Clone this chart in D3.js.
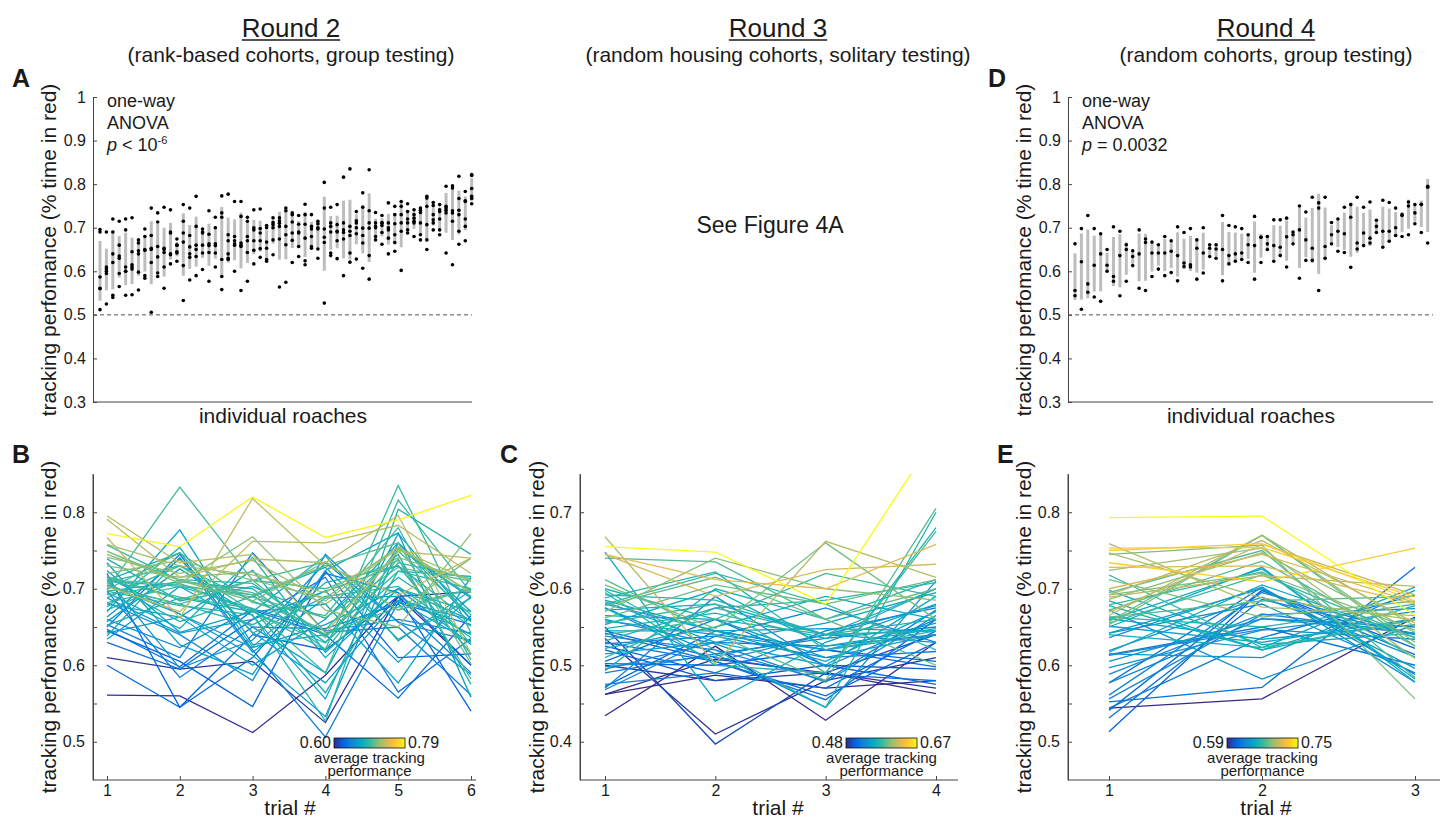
<!DOCTYPE html>
<meta charset="utf-8">
<style>
 body { margin: 0; background: #fff; }
 text { font-family: "Liberation Sans", Arial, Helvetica, sans-serif; fill: #1a1a1a; }
 .axis path, .axis line { stroke: #444; }
 .trace { fill: none; stroke-width: 1.3px; }
</style>
<body>
<script src="https://d3js.org/d3.v7.min.js"></script>
<script>
// Round 2: six trials per roach (panels A and B), roaches ordered by mean
var round2Trials = [
  [0.561,0.560,0.512,0.587,0.690,0.696],
  [0.610,0.595,0.605,0.525,0.690,0.600],
  [0.720,0.545,0.640,0.620,0.690,0.540],
  [0.630,0.595,0.660,0.715,0.565,0.635],
  [0.600,0.545,0.610,0.720,0.695,0.600],
  [0.645,0.605,0.546,0.723,0.610,0.615],
  [0.647,0.598,0.672,0.640,0.557,0.665],
  [0.697,0.584,0.650,0.648,0.680,0.590],
  [0.650,0.745,0.620,0.506,0.682,0.653],
  [0.713,0.596,0.633,0.734,0.657,0.588],
  [0.653,0.610,0.747,0.643,0.650,0.561],
  [0.638,0.741,0.617,0.688,0.690,0.640],
  [0.660,0.623,0.674,0.645,0.660,0.642],
  [0.715,0.667,0.613,0.533,0.753,0.688],
  [0.682,0.640,0.580,0.745,0.656,0.632],
  [0.634,0.703,0.650,0.590,0.772,0.660],
  [0.688,0.642,0.660,0.697,0.604,0.690],
  [0.663,0.739,0.643,0.577,0.685,0.659],
  [0.642,0.663,0.724,0.610,0.700,0.659],
  [0.734,0.627,0.588,0.724,0.773,0.558],
  [0.670,0.777,0.627,0.640,0.684,0.630],
  [0.680,0.663,0.600,0.660,0.760,0.670],
  [0.657,0.726,0.665,0.556,0.760,0.660],
  [0.724,0.643,0.670,0.680,0.577,0.715],
  [0.695,0.648,0.741,0.617,0.700,0.670],
  [0.652,0.688,0.670,0.743,0.632,0.698],
  [0.705,0.667,0.623,0.653,0.700,0.627],
  [0.672,0.712,0.707,0.638,0.723,0.700],
  [0.710,0.703,0.674,0.564,0.723,0.716],
  [0.739,0.684,0.703,0.661,0.745,0.575],
  [0.688,0.730,0.671,0.620,0.734,0.713],
  [0.708,0.657,0.690,0.728,0.634,0.688],
  [0.676,0.754,0.624,0.708,0.730,0.615],
  [0.703,0.680,0.653,0.697,0.730,0.657],
  [0.697,0.709,0.700,0.630,0.715,0.651],
  [0.697,0.678,0.666,0.527,0.804,0.745],
  [0.711,0.747,0.642,0.690,0.703,0.636],
  [0.692,0.707,0.670,0.629,0.753,0.690],
  [0.711,0.689,0.674,0.590,0.816,0.695],
  [0.682,0.703,0.692,0.621,0.835,0.642],
  [0.716,0.686,0.711,0.700,0.737,0.628],
  [0.699,0.747,0.682,0.665,0.780,0.607],
  [0.699,0.833,0.711,0.636,0.739,0.582],
  [0.703,0.680,0.711,0.735,0.672,0.700],
  [0.712,0.705,0.689,0.662,0.728,0.710],
  [0.757,0.711,0.695,0.640,0.676,0.700],
  [0.709,0.730,0.684,0.646,0.749,0.666],
  [0.749,0.711,0.692,0.730,0.760,0.602],
  [0.720,0.737,0.711,0.688,0.755,0.695],
  [0.730,0.715,0.722,0.680,0.741,0.711],
  [0.745,0.711,0.684,0.735,0.672,0.740],
  [0.749,0.707,0.768,0.672,0.650,0.772],
  [0.758,0.730,0.718,0.695,0.751,0.711],
  [0.741,0.720,0.737,0.684,0.753,0.695],
  [0.795,0.734,0.745,0.642,0.749,0.740],
  [0.791,0.715,0.739,0.734,0.796,0.615],
  [0.767,0.662,0.818,0.730,0.692,0.740],
  [0.703,0.670,0.762,0.760,0.783,0.720],
  [0.772,0.755,0.820,0.767,0.790,0.822]
];

// Round 3: four trials per roach (panel C)
var round3Trials = [
  [0.655,0.648,0.580,0.800],
  [0.668,0.502,0.662,0.615],
  [0.648,0.453,0.530,0.580],
  [0.645,0.612,0.600,0.658],
  [0.645,0.590,0.625,0.632],
  [0.640,0.635,0.560,0.500],
  [0.612,0.540,0.480,0.705],
  [0.605,0.548,0.660,0.560],
  [0.600,0.560,0.540,0.560],
  [0.598,0.520,0.445,0.700],
  [0.595,0.500,0.490,0.680],
  [0.592,0.585,0.540,0.545],
  [0.588,0.622,0.520,0.545],
  [0.585,0.545,0.505,0.570],
  [0.583,0.530,0.500,0.590],
  [0.580,0.545,0.520,0.540],
  [0.578,0.615,0.560,0.600],
  [0.575,0.505,0.540,0.530],
  [0.572,0.580,0.540,0.545],
  [0.570,0.640,0.600,0.585],
  [0.565,0.560,0.510,0.540],
  [0.562,0.605,0.580,0.612],
  [0.560,0.528,0.478,0.565],
  [0.558,0.540,0.520,0.555],
  [0.555,0.580,0.490,0.675],
  [0.553,0.598,0.525,0.548],
  [0.550,0.397,0.490,0.540],
  [0.548,0.568,0.535,0.600],
  [0.545,0.545,0.548,0.545],
  [0.545,0.510,0.488,0.480],
  [0.542,0.505,0.460,0.530],
  [0.540,0.560,0.620,0.590],
  [0.538,0.520,0.480,0.572],
  [0.535,0.410,0.480,0.510],
  [0.532,0.575,0.540,0.600],
  [0.530,0.505,0.455,0.560],
  [0.528,0.538,0.510,0.518],
  [0.525,0.490,0.470,0.545],
  [0.522,0.550,0.590,0.560],
  [0.520,0.480,0.500,0.495],
  [0.515,0.530,0.555,0.595],
  [0.510,0.575,0.585,0.608],
  [0.505,0.560,0.500,0.475],
  [0.502,0.500,0.520,0.505],
  [0.500,0.480,0.490,0.470],
  [0.498,0.512,0.540,0.578],
  [0.495,0.530,0.525,0.540],
  [0.493,0.600,0.560,0.612],
  [0.490,0.515,0.535,0.550],
  [0.475,0.490,0.545,0.575],
  [0.472,0.545,0.520,0.498],
  [0.470,0.590,0.498,0.560],
  [0.468,0.538,0.575,0.530],
  [0.462,0.508,0.490,0.463],
  [0.462,0.487,0.470,0.480],
  [0.434,0.525,0.428,0.530],
  [0.575,0.515,0.445,0.610],
  [0.580,0.620,0.580,0.520]
];

// Round 4: three trials per roach (panels D and E), ordered by mean
var round4Trials = [
  [0.544,0.556,0.663],
  [0.513,0.698,0.622],
  [0.552,0.571,0.728],
  [0.541,0.698,0.614],
  [0.531,0.686,0.640],
  [0.614,0.650,0.600],
  [0.577,0.702,0.588],
  [0.544,0.636,0.692],
  [0.577,0.661,0.650],
  [0.613,0.647,0.634],
  [0.561,0.695,0.640],
  [0.556,0.666,0.674],
  [0.588,0.667,0.642],
  [0.605,0.661,0.642],
  [0.642,0.680,0.590],
  [0.597,0.646,0.670],
  [0.636,0.702,0.578],
  [0.619,0.689,0.611],
  [0.615,0.610,0.698],
  [0.672,0.582,0.653],
  [0.642,0.700,0.596],
  [0.661,0.634,0.653],
  [0.651,0.630,0.661],
  [0.650,0.728,0.578],
  [0.617,0.705,0.636],
  [0.640,0.623,0.702],
  [0.698,0.627,0.642],
  [0.684,0.620,0.661],
  [0.659,0.726,0.582],
  [0.678,0.620,0.678],
  [0.663,0.650,0.680],
  [0.718,0.623,0.659],
  [0.655,0.718,0.636],
  [0.679,0.722,0.610],
  [0.663,0.684,0.690],
  [0.695,0.750,0.584],
  [0.672,0.736,0.625],
  [0.653,0.770,0.625],
  [0.745,0.757,0.556],
  [0.657,0.770,0.630],
  [0.712,0.663,0.684],
  [0.692,0.720,0.646],
  [0.686,0.747,0.643],
  [0.724,0.753,0.609],
  [0.665,0.770,0.651],
  [0.747,0.688,0.659],
  [0.759,0.676,0.665],
  [0.689,0.717,0.703],
  [0.692,0.763,0.655],
  [0.669,0.758,0.692],
  [0.700,0.745,0.682],
  [0.728,0.730,0.680],
  [0.750,0.759,0.684],
  [0.734,0.709,0.753],
  [0.753,0.754,0.689],
  [0.793,0.795,0.665]
];

// axis ticks and colour bar ranges
var scatterTicks = [0.3, 0.4, 0.5, 0.6, 0.7, 0.8, 0.9, 1];
var ticksBE = [0.5, 0.55, 0.6, 0.65, 0.7, 0.75, 0.8];
var ticksC = [0.4, 0.45, 0.5, 0.55, 0.6, 0.65, 0.7];
var trialsB = [1, 2, 3, 4, 5, 6];
var trialsC = [1, 2, 3, 4];
var trialsE = [1, 2, 3];
var cbarB = [0.60, 0.79];
var cbarC = [0.48, 0.67];
var cbarE = [0.59, 0.75];

var yLabel = "tracking perfomance (% time in red)";

// parula colormap, sampled
var parulaStops = [0, 0.127, 0.254, 0.381, 0.508, 0.635, 0.762, 0.841, 0.889, 1];
var parulaColors = ["#352a87", "#0363e1", "#1485d4", "#06a7c6", "#38b99e", "#92bf73", "#d9ba56", "#fdbe3d", "#fccd2e", "#f9fb0e"];
var parula = d3.scaleLinear().domain(parulaStops).range(parulaColors).interpolate(d3.interpolateRgb).clamp(true);

var svg = d3.select("body").append("svg")
  .attr("width", 1442).attr("height", 821);
svg.append("rect").attr("width", 1442).attr("height", 821).attr("fill", "#fff");
var defs = svg.append("defs");

var grad = defs.append("linearGradient").attr("id", "parulaGrad");
parulaStops.forEach(function (s, i) {
  grad.append("stop").attr("offset", (s * 100) + "%").attr("stop-color", parulaColors[i]);
});

function tenths(d) {
  return Math.abs(d * 10 - Math.round(d * 10)) < 1e-6 ? d.toFixed(1) : "";
}

function styleAxis(a) {
  a.attr("font-size", 16).attr("font-family", null);
}

// column titles
function title(x, head, sub) {
  var t = svg.append("text").attr("x", x).attr("y", 37).attr("text-anchor", "middle")
    .attr("font-size", 26).text(head);
  var w = t.node().getComputedTextLength();
  svg.append("line").attr("x1", x - w / 2).attr("x2", x + w / 2)
    .attr("y1", 40).attr("y2", 40).attr("stroke", "#1a1a1a").attr("stroke-width", 1.3);
  svg.append("text").attr("x", x).attr("y", 62).attr("text-anchor", "middle")
    .attr("font-size", 21).text(sub);
}
title(291, "Round 2", "(rank-based cohorts, group testing)");
title(778, "Round 3", "(random housing cohorts, solitary testing)");
title(1266, "Round 4", "(random cohorts, group testing)");

svg.append("text").attr("x", 770).attr("y", 233).attr("text-anchor", "middle")
  .attr("font-size", 23).text("See Figure 4A");

function letter(x, y, s) {
  svg.append("text").attr("x", x).attr("y", y).attr("font-size", 25)
    .attr("font-weight", "bold").attr("fill", "#000").text(s);
}

function ylab(x, cy) {
  svg.append("text").attr("transform", "translate(" + x + "," + cy + ") rotate(-90)")
    .attr("text-anchor", "middle").attr("font-size", 21).text(yLabel);
}

// panels A and D: per-roach scatter with mean +/- sd bars
function scatterPanel(o) {
  var y = d3.scaleLinear().domain([0.3, 1]).range([402, 97]);
  var x = d3.scaleLinear().domain([0, o.data.length - 1]).range(o.xr);
  var g = svg.append("g");

  g.append("g").attr("class", "axis").attr("transform", "translate(" + o.x0 + ",0)")
    .call(d3.axisLeft(y).tickValues(scatterTicks).tickSizeInner(-4).tickSizeOuter(0)
      .tickPadding(7).tickFormat(function (d) { return d === 1 ? "1" : d.toFixed(1); }))
    .call(styleAxis);

  g.append("line").attr("x1", o.x0).attr("x2", o.x1).attr("y1", y(0.3)).attr("y2", y(0.3))
    .attr("stroke", "#444");
  g.append("line").attr("x1", o.x0).attr("x2", o.x1).attr("y1", y(0.5)).attr("y2", y(0.5))
    .attr("stroke", "#555").attr("stroke-dasharray", "4,3");

  var sd = function (d) { return Math.sqrt(d3.variance(d) * (d.length - 1) / d.length); };
  g.selectAll(".bar").data(o.data).enter().append("line")
    .attr("x1", function (d, i) { return x(i); })
    .attr("x2", function (d, i) { return x(i); })
    .attr("y1", function (d) { return y(d3.mean(d) - sd(d)); })
    .attr("y2", function (d) { return y(d3.mean(d) + sd(d)); })
    .attr("stroke", "#bdbdbd").attr("stroke-width", 3);

  o.data.forEach(function (d, i) {
    g.selectAll(null).data(d).enter().append("circle")
      .attr("cx", x(i)).attr("cy", function (v) { return y(v); })
      .attr("r", 1.8).attr("fill", "#000");
  });

  g.append("text").attr("x", o.cx).attr("y", 423).attr("text-anchor", "middle")
    .attr("font-size", 21).text("individual roaches");

  var tx = o.x0 + 14;
  g.append("text").attr("x", tx).attr("y", 107).attr("font-size", 18).text("one-way");
  g.append("text").attr("x", tx).attr("y", 129).attr("font-size", 18).text("ANOVA");
  var p = g.append("text").attr("x", tx).attr("y", 151).attr("font-size", 18);
  p.append("tspan").attr("font-style", "italic").text("p");
  if (o.pSup) {
    p.append("tspan").text(" < 10");
    p.append("tspan").attr("dy", -7).attr("font-size", 11).text(o.pSup);
  } else {
    p.append("tspan").text(o.pText);
  }
}

scatterPanel({ data: round2Trials, x0: 93, x1: 472, xr: [100, 471.7], cx: 283, pSup: "-6" });
scatterPanel({ data: round4Trials, x0: 1068, x1: 1433, xr: [1075, 1427.7], cx: 1251, pText: " = 0.0032" });
letter(12, 87, "A");
letter(988, 87, "D");
ylab(56, 250);
ylab(1031, 250);

// panels B, C, E: trial-by-trial lines coloured by mean
var clipId = 0;
function linePanel(o) {
  var y = d3.scaleLinear().domain(o.yDom).range([780, 474]);
  var x = d3.scaleLinear().domain([1, o.trials.length]).range(o.xr);
  var g = svg.append("g");
  var id = "clip" + (clipId++);
  defs.append("clipPath").attr("id", id).append("rect")
    .attr("x", o.x0).attr("y", 474).attr("width", o.x1 - o.x0).attr("height", 306);

  g.append("g").attr("class", "axis").attr("transform", "translate(" + o.x0 + ",0)")
    .call(d3.axisLeft(y).tickValues(o.yTicks).tickSizeInner(-4).tickSizeOuter(0)
      .tickPadding(8).tickFormat(tenths))
    .call(styleAxis);
  var xa = g.append("g").attr("class", "axis").attr("transform", "translate(0,780)")
    .call(d3.axisBottom(x).tickValues(o.trials).tickSizeInner(-4).tickSizeOuter(0)
      .tickPadding(5).tickFormat(d3.format("d")))
    .call(styleAxis);
  xa.select(".domain").remove();
  g.append("line").attr("x1", o.x0).attr("x2", o.x1).attr("y1", 780).attr("y2", 780)
    .attr("stroke", "#444");
  g.append("line").attr("x1", o.x0).attr("x2", o.x0).attr("y1", 474).attr("y2", 780)
    .attr("stroke", "#444");

  var col = function (m) { return parula((m - o.cbar[0]) / (o.cbar[1] - o.cbar[0])); };
  var sorted = o.data.slice().sort(function (a, b) { return d3.mean(a) - d3.mean(b); });
  var line = d3.line().x(function (v, i) { return x(i + 1); }).y(function (v) { return y(v); });
  g.append("g").attr("clip-path", "url(#" + id + ")")
    .selectAll("path").data(sorted).enter().append("path")
    .attr("class", "trace")
    .attr("d", line)
    .attr("stroke", function (d) { return col(d3.mean(d)); });

  // colour bar
  var cb = o.cb;
  g.append("rect").attr("x", cb).attr("y", 738).attr("width", 71).attr("height", 10)
    .attr("fill", "url(#parulaGrad)").attr("stroke", "#111").attr("stroke-width", 0.8);
  g.append("text").attr("x", cb - 3).attr("y", 748).attr("text-anchor", "end")
    .attr("font-size", 16).text(o.cbar[0].toFixed(2));
  g.append("text").attr("x", cb + 74).attr("y", 748)
    .attr("font-size", 16).text(o.cbar[1].toFixed(2));
  g.append("text").attr("x", cb + 35.5).attr("y", 763).attr("text-anchor", "middle")
    .attr("font-size", 15).text("average tracking");
  g.append("text").attr("x", cb + 35.5).attr("y", 776).attr("text-anchor", "middle")
    .attr("font-size", 15).text("performance");

  g.append("text").attr("x", o.tx).attr("y", 815).attr("text-anchor", "middle")
    .attr("font-size", 21).text("trial #");
}

linePanel({ data: round2Trials, trials: trialsB, yDom: [0.45, 0.85], yTicks: ticksBE,
  x0: 93, x1: 476, xr: [107, 471], cbar: cbarB, cb: 334, tx: 290 });
linePanel({ data: round3Trials, trials: trialsC, yDom: [0.35, 0.75], yTicks: ticksC,
  x0: 580, x1: 958, xr: [605, 936], cbar: cbarC, cb: 846, tx: 778 });
linePanel({ data: round4Trials, trials: trialsE, yDom: [0.45, 0.85], yTicks: ticksBE,
  x0: 1068, x1: 1440, xr: [1109, 1415], cbar: cbarE, cb: 1227, tx: 1266 });

letter(12, 463, "B");
letter(500, 463, "C");
letter(997, 463, "E");
ylab(56, 627);
ylab(544, 627);
ylab(1031, 627);
</script>
</body>
